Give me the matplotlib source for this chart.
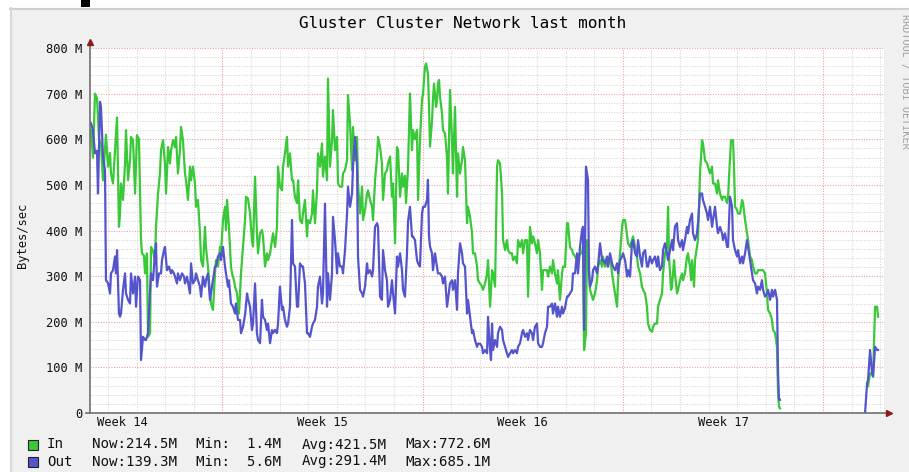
import numpy as np
import matplotlib
matplotlib.use("Agg")
import matplotlib.pyplot as plt
from matplotlib.patches import Rectangle
from matplotlib.lines import Line2D
from matplotlib.ticker import FixedLocator, MultipleLocator, FuncFormatter

# ---- data (time in hours from the start of the graph, values in MBytes/sec)
in_hours = [
    0.8, 2.5, 4.2, 5.9, 7.6, 9.2, 10.9, 13.4, 15.1, 16.8, 17.6, 19.3, 21.0, 22.7, 24.3, 25.2, 26.0, 27.7, 29.4, 30.2,
    31.9, 33.6, 34.4, 36.1, 37.8, 39.4, 41.1, 42.8, 43.6, 45.3, 46.2, 47.8, 48.7, 50.4, 51.2, 52.9, 54.5, 55.4, 57.1, 58.7,
    59.6, 61.3, 62.9, 63.8, 65.5, 67.1, 68.0, 69.7, 71.3, 72.2, 73.8, 75.5, 76.4, 78.0, 79.7, 80.6, 82.2, 83.9, 84.8, 86.4,
    88.1, 89.0, 90.6, 92.3, 93.2, 94.8, 96.5, 97.3, 99.0, 100.7, 101.5, 103.2, 104.9, 105.7, 107.4, 109.1, 109.9, 111.6, 113.3, 114.1,
    115.0, 116.6, 118.3, 119.2, 120.8, 121.7, 123.4, 125.0, 125.9, 126.7, 128.4, 130.1, 130.9, 132.6, 134.3, 135.9, 136.8, 138.5, 140.1, 141.0,
    142.7, 144.3, 145.2, 146.9, 148.5, 149.4, 151.1, 152.7, 153.6, 155.3, 156.9, 157.8, 159.4, 161.1, 162.0, 163.6, 165.3, 166.2, 167.8, 169.5,
    170.4, 172.0, 173.7, 174.6, 176.2, 177.9, 178.7, 180.4, 182.1, 182.9, 184.6, 186.3, 187.1, 188.8, 190.5, 191.3, 193.0, 194.7, 195.5, 197.2,
    198.9, 199.7, 201.4, 203.1, 203.9, 205.6, 207.3, 208.1, 209.8, 211.5, 212.3, 214.0, 215.7, 216.5, 218.2, 219.9, 220.7, 222.4, 224.1, 224.9,
    226.6, 228.3, 229.1, 230.8, 232.5, 233.3, 235.0, 236.7, 237.5, 239.2, 240.9, 241.7, 243.4, 245.0, 245.9, 247.6, 249.2, 250.1, 251.8, 253.4,
    254.3, 256.0, 257.6, 258.5, 260.2, 261.8, 262.7, 264.3, 265.2, 266.9, 268.5, 270.2, 271.1, 272.7, 274.4, 275.3, 276.9, 278.6, 279.5, 281.1,
    282.0, 283.6, 284.5, 285.3, 287.0, 287.8, 288.7, 290.4, 291.2, 292.0, 292.9, 293.7, 295.4, 296.2, 297.9, 299.6, 300.4, 302.1, 303.8, 304.6,
    306.3, 308.0, 308.8, 310.5, 312.2, 313.0, 314.7, 316.4, 317.2, 318.9, 320.6, 321.4, 323.1, 324.8, 325.6, 327.3, 329.0, 329.8, 331.5, 333.2,
    334.0, 335.7, 337.4, 338.2, 339.9, 341.6, 342.4, 344.1, 345.8, 346.6, 348.3, 349.9, 350.8, 352.5, 354.1, 355.0, 356.7, 358.3, 359.2, 360.9,
    362.5, 363.4, 365.1, 366.7, 367.6, 369.2, 370.9, 371.8, 373.4, 375.1, 376.0, 377.6, 379.3, 380.2, 381.8, 383.5, 384.4, 386.0, 387.7, 388.5,
    390.2, 391.9, 392.7, 394.4, 396.1, 396.9, 398.6, 400.3, 401.1, 402.8, 404.5, 405.3, 407.0, 408.7, 409.5, 411.2, 412.9, 413.7, 414.6, 416.2,
    417.1, 417.9, 418.8, 419.6, 421.3, 422.1, 423.8, 425.5, 426.3, 428.0, 429.7, 430.5, 432.2, 433.9, 434.7, 436.4, 438.1, 438.9, 440.6, 442.3,
    443.1, 444.8, 446.5, 447.3, 449.0, 450.7, 451.5, 453.2, 454.8, 455.7, 457.4, 459.0, 459.9, 461.6, 463.2, 464.1, 465.8, 467.4, 468.3, 469.9,
    471.6, 472.5, 474.1, 475.8, 476.7, 478.3, 480.0, 480.9, 482.5, 484.2, 485.1, 485.9, 487.6, 488.4, 490.1, 490.9, 492.6, 493.5, 495.1, 496.8,
    497.6, 499.3, 501.0, 501.8, 503.5, 504.4, 505.2, 506.9, 507.7, 509.4, 510.2, 511.9, 513.6, 514.4, 516.1, 517.8, 518.6, 520.3, 522.0, 522.8,
    524.5, 526.2, 527.0, 528.7, 530.4, 531.2, 532.9, 534.6, 535.4, 536.3, 537.9, 539.6, 540.4, 541.3, 543.0, 543.8, 545.5, 547.2, 548.0, 549.7,
    551.3, 552.2, 553.9, 555.5, 556.4, 558.1, 559.7, 560.6, 562.3, 563.9, 564.8, 566.5, 568.1, 569.0, 570.7, 572.3, 573.2, 574.9, 576.5, 577.4,
    578.2, 579.0, 615.0, 652.1, 652.9, 654.6, 656.3, 657.1, 658.8, 660.5, 661.3,
]
in_values = [
    620, 560, 700, 690, 600, 590, 510, 610, 540, 570, 525, 503, 576, 648, 408, 437, 503, 467, 547, 620,
    510, 554, 605, 598, 481, 609, 600, 379, 350, 345, 306, 350, 167, 175, 364, 355, 335, 408, 481, 525,
    576, 598, 547, 481, 583, 547, 576, 598, 583, 605, 525, 576, 627, 598, 525, 510, 467, 540, 510, 540,
    503, 452, 467, 394, 335, 321, 408, 364, 321, 262, 240, 226, 306, 335, 321, 364, 350, 423, 452, 401,
    467, 408, 321, 306, 291, 277, 262, 218, 262, 306, 364, 423, 474, 470, 437, 379, 365, 518, 394, 350,
    394, 401, 387, 321, 350, 335, 350, 379, 394, 364, 408, 540, 496, 488, 540, 569, 605, 540, 569, 510,
    510, 474, 460, 510, 423, 416, 437, 467, 387, 423, 416, 437, 488, 416, 488, 569, 540, 591, 518, 562,
    510, 733, 540, 598, 664, 576, 605, 503, 496, 496, 525, 532, 554, 697, 635, 532, 627, 554, 605, 503,
    437, 496, 423, 445, 481, 488, 467, 452, 423, 510, 562, 605, 583, 547, 467, 525, 532, 547, 562, 474,
    503, 372, 583, 576, 474, 525, 496, 520, 460, 540, 700, 576, 620, 600, 620, 467, 598, 686, 700, 759,
    766, 744, 671, 584, 640, 686, 722, 671, 686, 722, 730, 693, 657, 620, 613, 562, 481, 708, 598, 525,
    671, 474, 569, 525, 554, 583, 554, 416, 452, 430, 394, 350, 350, 321, 291, 284, 277, 270, 284, 306,
    335, 233, 313, 306, 277, 540, 554, 547, 481, 379, 357, 379, 357, 350, 350, 335, 343, 328, 379, 364,
    379, 350, 379, 379, 255, 408, 372, 387, 372, 350, 379, 350, 270, 313, 313, 313, 299, 321, 306, 335,
    306, 284, 313, 248, 306, 321, 320, 416, 416, 364, 357, 350, 343, 335, 335, 350, 350, 364, 138, 175,
    379, 350, 306, 270, 255, 248, 262, 291, 321, 335, 321, 343, 321, 328, 321, 343, 306, 291, 262, 233,
    291, 350, 408, 423, 423, 387, 372, 364, 379, 387, 364, 343, 321, 306, 277, 270, 262, 233, 196, 182,
    178, 189, 196, 196, 233, 248, 262, 306, 350, 364, 452, 343, 270, 277, 335, 306, 262, 270, 291, 306,
    291, 306, 343, 350, 321, 291, 335, 277, 335, 364, 379, 525, 598, 591, 554, 547, 540, 525, 540, 503,
    503, 481, 510, 481, 467, 474, 474, 460, 470, 520, 598, 598, 540, 452, 445, 437, 437, 467, 460, 423,
    394, 379, 343, 335, 321, 306, 306, 313, 313, 313, 313, 306, 262, 226, 218, 204, 182, 175, 145, 43,
    14, 10, np.nan, 65, 58, 87, 87, 80, 233, 233, 211,
]

out_hours = [
    0.8, 2.5, 4.2, 5.9, 6.7, 8.4, 9.2, 10.9, 12.6, 13.4, 15.1, 16.8, 17.6, 19.3, 21.0, 21.8, 22.7, 24.3, 25.2, 26.0,
    27.7, 29.4, 30.2, 31.9, 33.6, 34.4, 36.1, 37.8, 38.6, 40.3, 42.0, 42.8, 44.5, 46.2, 47.0, 48.7, 50.4, 51.2, 52.9, 54.5,
    55.4, 56.2, 57.9, 59.6, 60.4, 62.1, 62.9, 64.6, 66.3, 68.0, 68.8, 70.5, 71.3, 73.0, 73.8, 75.5, 77.2, 78.9, 79.7, 81.4,
    83.9, 84.8, 86.4, 88.1, 89.0, 90.6, 92.3, 93.2, 94.8, 96.5, 97.3, 99.0, 100.7, 101.5, 103.2, 104.9, 105.7, 107.4, 109.1, 109.9,
    111.6, 113.3, 114.1, 115.8, 116.6, 118.3, 120.0, 121.7, 122.5, 124.2, 125.9, 126.7, 128.4, 130.1, 131.8, 132.6, 134.3, 135.9, 136.8, 138.5,
    140.1, 141.0, 142.7, 144.3, 145.2, 146.9, 148.5, 149.4, 151.1, 152.7, 153.6, 155.3, 156.9, 157.8, 159.4, 161.1, 162.0, 163.6, 165.3, 166.2,
    167.8, 169.5, 170.4, 172.0, 173.7, 174.6, 176.2, 177.9, 178.7, 180.4, 182.1, 182.9, 184.6, 186.3, 187.1, 188.8, 190.5, 191.3, 193.0, 194.7,
    195.5, 197.2, 198.9, 199.7, 201.4, 203.1, 203.9, 205.6, 207.3, 208.1, 209.8, 211.5, 212.3, 214.0, 215.7, 216.5, 218.2, 219.9, 220.7, 222.4,
    224.1, 224.9, 226.6, 228.3, 229.1, 230.8, 232.5, 233.3, 235.0, 236.7, 237.5, 239.2, 240.9, 241.7, 243.4, 245.0, 245.9, 247.6, 249.2, 250.1,
    251.8, 253.4, 254.3, 256.0, 257.6, 258.5, 260.2, 261.8, 262.7, 264.3, 266.0, 266.9, 268.5, 270.2, 271.1, 272.7, 274.4, 275.3, 276.9, 278.6,
    279.5, 281.1, 282.8, 283.6, 284.5, 285.3, 287.0, 287.8, 289.5, 291.2, 292.0, 293.7, 295.4, 296.2, 297.9, 299.6, 300.4, 302.1, 303.8, 304.6,
    306.3, 308.0, 308.8, 310.5, 312.2, 313.0, 314.7, 316.4, 317.2, 318.9, 320.6, 321.4, 323.1, 324.8, 325.6, 327.3, 329.0, 329.8, 331.5, 333.2,
    334.0, 335.7, 336.5, 337.4, 338.2, 339.9, 341.6, 342.4, 344.1, 345.8, 346.6, 348.3, 349.9, 350.8, 352.5, 354.1, 355.0, 356.7, 358.3, 359.2,
    360.9, 362.5, 363.4, 365.1, 366.7, 367.6, 369.2, 370.9, 371.8, 373.4, 375.1, 376.0, 377.6, 379.3, 380.2, 381.8, 383.5, 384.4, 386.0, 387.7,
    388.5, 390.2, 391.9, 392.7, 394.4, 396.1, 396.9, 398.6, 400.3, 401.1, 402.8, 404.5, 405.3, 407.0, 408.7, 409.5, 411.2, 412.9, 413.7, 414.6,
    416.2, 417.1, 417.9, 418.8, 419.6, 421.3, 422.1, 423.8, 425.5, 426.3, 428.0, 429.7, 430.5, 432.2, 433.9, 434.7, 436.4, 438.1, 438.9, 440.6,
    442.3, 443.1, 444.8, 446.5, 447.3, 449.0, 450.7, 451.5, 453.2, 454.8, 455.7, 457.4, 459.0, 459.9, 461.6, 463.2, 464.1, 465.8, 467.4, 468.3,
    469.9, 471.6, 472.5, 474.1, 475.8, 476.7, 478.3, 480.0, 480.9, 482.5, 484.2, 485.1, 486.8, 488.4, 489.3, 490.9, 492.6, 493.5, 495.1, 496.8,
    497.6, 499.3, 501.0, 501.8, 503.5, 505.2, 506.0, 507.7, 509.4, 510.2, 511.9, 513.6, 514.4, 516.1, 517.8, 518.6, 520.3, 522.0, 522.8, 524.5,
    526.2, 527.0, 528.7, 530.4, 531.2, 532.9, 534.6, 535.4, 537.1, 538.8, 539.6, 541.3, 543.0, 543.8, 545.5, 547.2, 548.0, 549.7, 551.3, 552.2,
    553.9, 555.5, 556.4, 558.1, 559.7, 560.6, 562.3, 563.9, 564.8, 566.5, 568.1, 569.0, 570.7, 572.3, 573.2, 574.9, 576.5, 577.4, 578.2, 579.0,
    615.0, 650.4, 652.1, 652.9, 654.6, 656.3, 657.1, 658.8, 660.5, 661.3,
]
out_values = [
    635, 620, 569, 575, 481, 682, 671, 562, 532, 291, 285, 262, 306, 313, 343, 306, 357, 218, 211, 218,
    270, 306, 262, 248, 240, 306, 262, 299, 233, 299, 291, 116, 167, 160, 160, 175, 270, 306, 291, 350,
    372, 277, 306, 306, 335, 357, 364, 313, 321, 306, 313, 306, 299, 284, 306, 291, 306, 299, 284, 299,
    262, 328, 284, 291, 306, 291, 277, 255, 299, 277, 291, 306, 248, 262, 291, 321, 321, 343, 350, 335,
    364, 321, 306, 277, 291, 240, 233, 218, 240, 204, 204, 175, 189, 215, 262, 250, 233, 182, 196, 284,
    175, 160, 153, 248, 211, 204, 182, 196, 153, 182, 175, 182, 175, 196, 277, 226, 233, 204, 189, 196,
    233, 423, 328, 321, 233, 233, 328, 321, 321, 284, 175, 175, 167, 189, 196, 204, 233, 277, 299, 240,
    262, 459, 233, 306, 248, 306, 430, 379, 306, 350, 321, 321, 306, 357, 437, 496, 452, 481, 540, 605,
    540, 343, 270, 262, 255, 277, 328, 306, 313, 299, 313, 408, 416, 408, 255, 248, 357, 313, 291, 233,
    248, 291, 262, 218, 343, 321, 350, 313, 270, 255, 350, 420, 452, 387, 387, 379, 335, 328, 321, 437,
    452, 452, 467, 511, 387, 365, 350, 313, 350, 321, 306, 306, 299, 284, 299, 233, 248, 284, 291, 270,
    291, 226, 306, 372, 350, 328, 321, 218, 248, 211, 175, 182, 160, 145, 152, 152, 145, 131, 138, 131,
    211, 138, 116, 196, 138, 160, 145, 175, 189, 182, 160, 145, 131, 123, 131, 138, 131, 138, 131, 145,
    153, 175, 182, 167, 175, 160, 182, 175, 160, 189, 196, 153, 145, 145, 153, 175, 189, 233, 233, 240,
    218, 240, 211, 233, 211, 233, 218, 230, 255, 255, 262, 270, 306, 306, 350, 306, 364, 401, 408, 182,
    540, 525, 511, 306, 277, 291, 313, 321, 306, 321, 372, 335, 335, 328, 343, 321, 350, 328, 321, 313,
    328, 306, 335, 343, 350, 335, 299, 313, 299, 372, 379, 350, 343, 379, 343, 321, 350, 357, 321, 321,
    343, 328, 335, 343, 321, 343, 313, 321, 357, 372, 350, 335, 357, 379, 357, 409, 416, 379, 364, 379,
    357, 379, 408, 394, 423, 437, 394, 379, 394, 416, 481, 481, 467, 452, 437, 423, 452, 408, 423, 452,
    408, 394, 408, 394, 379, 394, 364, 364, 474, 452, 379, 357, 343, 357, 328, 343, 328, 350, 379, 364,
    335, 306, 291, 284, 262, 277, 270, 291, 270, 255, 262, 270, 248, 270, 255, 270, 248, 87, 29, 29,
    np.nan, 0, 65, 72, 138, 87, 80, 145, 138, 138,
]

series_names = ["In", "Out"]
series_colors = ["#38C838", "#5454CC"]
legend_now = ["Now:214.5M", "Now:139.3M"]
legend_min = ["Min:  1.4M", "Min:  5.6M"]
legend_avg = ["Avg:421.5M", "Avg:291.4M"]
legend_max = ["Max:772.6M", "Max:685.1M"]

week_starts = [111.1, 279.1, 447.1, 615.1]          # Monday 00:00 (hours)
week_labels = ["Week 14", "Week 15", "Week 16", "Week 17"]
day_lines = [15.1 + 24 * k for k in range(28)]
end_hour = 666.3

title = "Gluster Cluster Network last month"
ylabel = "Bytes/sec"
watermark = "RRDTOOL / TOBI OETIKER"

mono = "DejaVu Sans Mono"
W, H = 909, 472

fig = plt.figure(figsize=(W / 100, H / 100), dpi=100, facecolor="white")

# grey rrdtool background with its light shade border
fig.patches.append(Rectangle((10 / W, 0), 1, 1 - 8 / H, transform=fig.transFigure,
                             facecolor="#F0F0F0", edgecolor="none", zorder=-5))
fig.lines.append(Line2D([10 / W, 1], [1 - 8.5 / H, 1 - 8.5 / H], transform=fig.transFigure,
                        color="#CFCFCF", lw=1.5, zorder=-4))
fig.lines.append(Line2D([10.5 / W, 10.5 / W], [0, 1 - 8 / H], transform=fig.transFigure,
                        color="#D8D8D8", lw=1.5, zorder=-4))
fig.patches.append(Rectangle((81 / W, 1 - 6.5 / H), 9 / W, 6.5 / H, transform=fig.transFigure,
                             facecolor="black", edgecolor="none", zorder=-4))

ax = fig.add_axes([90 / W, 1 - 413 / H, 794 / W, 365 / H])
ax.set_facecolor("white")
ax.set_xlim(0, end_hour)
ax.set_ylim(0, 800)

# grid
ax.yaxis.set_major_locator(MultipleLocator(100))
ax.yaxis.set_minor_locator(MultipleLocator(20))
ax.xaxis.set_major_locator(FixedLocator(week_starts))
ax.xaxis.set_minor_locator(FixedLocator(day_lines))
ax.grid(which="minor", color="#D4D4D4", linestyle=(0, (1, 1.5)), linewidth=0.75)
ax.grid(which="major", color="#F29A9A", linestyle=(0, (1, 1.5)), linewidth=0.75)
ax.set_axisbelow(True)

ax.yaxis.set_major_formatter(FuncFormatter(lambda v, p: "0" if v == 0 else f"{int(v)} M"))
ax.tick_params(axis="y", which="major", length=0, pad=5.3, labelsize=8.7, labelcolor="#111111")
ax.tick_params(axis="y", which="minor", length=0)
ax.tick_params(axis="x", which="both", length=0, labelbottom=False)
for lab in ax.get_yticklabels():
    lab.set_fontfamily(mono)

for s in ax.spines.values():
    s.set_visible(False)

# data
ax.plot(in_hours, in_values, color=series_colors[0], lw=1.6, zorder=3)
ax.plot(out_hours, out_values, color=series_colors[1], lw=1.6, zorder=4)

# axes with arrows
ax.plot([0, 0], [0, 1 + 6 / 365], transform=ax.transAxes, color="#707070", lw=1.2,
        clip_on=False, zorder=5)
ax.plot([-4 / 794, 1 + 4 / 794], [0, 0], transform=ax.transAxes, color="#707070", lw=1.2,
        clip_on=False, zorder=5)
ax.plot([0], [1 + 6 / 365], transform=ax.transAxes, marker="^", ms=5, color="#8E1C1C",
        clip_on=False, zorder=6)
ax.plot([1 + 5 / 794], [0], transform=ax.transAxes, marker=">", ms=5, color="#8E1C1C",
        clip_on=False, zorder=6)

# week labels in the middle of each week
xtrans = ax.get_xaxis_transform()
for ws, lab in zip(week_starts, week_labels):
    ax.text(ws - 84, -10 / 365, lab, transform=xtrans, ha="center", va="center",
            fontsize=8.7, family=mono, color="#111111")

fig.text(463 / W, 1 - 24 / H, title, ha="center", va="center", fontsize=11.5, family=mono)
fig.text(22 / W, 1 - 235 / H, ylabel, rotation=90, ha="center", va="center",
         fontsize=8.7, family=mono, color="#111111")
fig.text(905 / W, 1 - 14 / H, watermark, rotation=270, ha="center", va="top",
         fontsize=7.3, family=mono, color="#A0A0A0")

# legend
rows_y = [444.5, 461.5]
for i in range(2):
    yc = 1 - rows_y[i] / H
    fig.patches.append(Rectangle((28.5 / W, yc - 5 / H), 10 / W, 10 / H, transform=fig.transFigure,
                                 facecolor=series_colors[i], edgecolor="#222222", lw=0.8))
    for xpx, txt in zip([47, 92, 196, 302, 405],
                        [series_names[i], legend_now[i], legend_min[i], legend_avg[i], legend_max[i]]):
        fig.text(xpx / W, yc, txt, ha="left", va="center", fontsize=10.2, family=mono,
                 color="#111111")

fig.savefig("out.png", dpi=100, facecolor=fig.get_facecolor())
